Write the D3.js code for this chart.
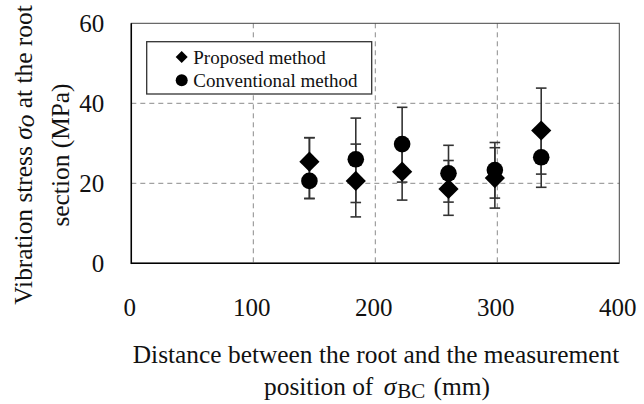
<!DOCTYPE html>
<html>
<head>
<meta charset="utf-8">
<script src="https://cdn.jsdelivr.net/npm/d3@7"></script>
<style>
  html, body { margin: 0; padding: 0; background: #fff; }
  svg { display: block; }
  text { font-family: "Liberation Serif", "Times New Roman", serif; fill: #111; }
</style>
</head>
<body>
<svg id="chart" width="644" height="404"></svg>
<script>
// Measurement positions (mm) and vibration stress (MPa)
const positions = [146, 184, 222, 260, 298, 336];

const proposedMean = [25.4, 20.6, 22.9, 18.6, 21.3, 33.2];
const proposedLow  = [16.2, 11.6, 15.8, 12.0, 13.8, 22.3];
const proposedHigh = [31.4, 29.8, 29.5, 25.7, 28.9, 43.8];

const conventionalMean = [20.6, 26.0, 29.8, 22.5, 23.3, 26.5];
const conventionalLow  = [16.2, 15.2, 20.3, 15.3, 16.3, 19.0];
const conventionalHigh = [31.4, 36.3, 39.0, 29.5, 30.2, 33.0];

const xTicks = [0, 100, 200, 300, 400];
const yTicks = [0, 20, 40, 60];
const legendLabels = ["Proposed method", "Conventional method"];

const svg = d3.select("#chart");
const plot = { left: 131.3, right: 619.3, top: 23.3, bottom: 263.3 };
const serif = "'Liberation Serif', 'Times New Roman', serif";

const x = d3.scaleLinear().domain([0, 400]).range([plot.left, plot.right]);
const y = d3.scaleLinear().domain([0, 60]).range([plot.bottom, plot.top]);

// dashed grid
const grid = svg.append("g");
grid.selectAll("line.gx").data(xTicks.filter(v => v > 0 && v < 400)).join("line")
  .attr("x1", d => x(d)).attr("x2", d => x(d))
  .attr("y1", plot.top).attr("y2", plot.bottom)
  .attr("stroke", "#8a8a8a").attr("stroke-width", 1).attr("stroke-dasharray", "5,4");
grid.selectAll("line.gy").data(yTicks.filter(v => v > 0 && v < 60)).join("line")
  .attr("x1", plot.left).attr("x2", plot.right)
  .attr("y1", d => y(d)).attr("y2", d => y(d))
  .attr("stroke", "#8a8a8a").attr("stroke-width", 1).attr("stroke-dasharray", "5,4");

// plot frame
svg.append("rect")
  .attr("x", plot.left).attr("y", plot.top)
  .attr("width", plot.right - plot.left).attr("height", plot.bottom - plot.top)
  .attr("fill", "none").attr("stroke", "#444").attr("stroke-width", 1);
svg.append("line").attr("x1", plot.left).attr("x2", plot.left)
  .attr("y1", plot.top).attr("y2", plot.bottom + 0.75)
  .attr("stroke", "#000").attr("stroke-width", 1.5);
svg.append("line").attr("x1", plot.left).attr("x2", plot.right)
  .attr("y1", plot.bottom).attr("y2", plot.bottom)
  .attr("stroke", "#000").attr("stroke-width", 1.5);

// axes (labels only, no tick marks)
const xAxis = d3.axisBottom(x).tickValues(xTicks).tickSize(0).tickPadding(0);
const gx = svg.append("g").attr("transform", `translate(0,${plot.bottom})`).call(xAxis)
  .attr("font-family", serif).attr("font-size", 25);
gx.select(".domain").remove();
gx.selectAll("text")
  .attr("dy", null).attr("y", 53).attr("dx", -2).attr("fill", "#111");

const yAxis = d3.axisLeft(y).tickValues(yTicks).tickSize(0).tickPadding(0);
const gy = svg.append("g").attr("transform", `translate(${plot.left},0)`).call(yAxis)
  .attr("font-family", serif).attr("font-size", 25);
gy.select(".domain").remove();
gy.selectAll("text")
  .attr("x", -27).attr("dy", "0.34em").attr("fill", "#111");

// error bars
function drawErrorBars(mean, low, high) {
  const g = svg.append("g").attr("stroke", "#333").attr("stroke-width", 1.6);
  const rows = positions.map((p, i) => ({ p, lo: low[i], hi: high[i] }));
  g.selectAll("line.v").data(rows).join("line")
    .attr("x1", d => x(d.p)).attr("x2", d => x(d.p))
    .attr("y1", d => y(d.lo)).attr("y2", d => y(d.hi));
  g.selectAll("line.lo").data(rows).join("line")
    .attr("x1", d => x(d.p) - 5.3).attr("x2", d => x(d.p) + 5.3)
    .attr("y1", d => y(d.lo)).attr("y2", d => y(d.lo));
  g.selectAll("line.hi").data(rows).join("line")
    .attr("x1", d => x(d.p) - 5.3).attr("x2", d => x(d.p) + 5.3)
    .attr("y1", d => y(d.hi)).attr("y2", d => y(d.hi));
}
drawErrorBars(proposedMean, proposedLow, proposedHigh);
drawErrorBars(conventionalMean, conventionalLow, conventionalHigh);

// markers
const diamond = d3.symbol().type(d3.symbolDiamond2).size(260);
svg.append("g").selectAll("circle").data(positions.map((p, i) => ({ p, v: conventionalMean[i] }))).join("circle")
  .attr("cx", d => x(d.p)).attr("cy", d => y(d.v)).attr("r", 8.3).attr("fill", "#000");
svg.append("g").selectAll("path").data(positions.map((p, i) => ({ p, v: proposedMean[i] }))).join("path")
  .attr("d", diamond).attr("transform", d => `translate(${x(d.p)},${y(d.v)})`).attr("fill", "#000");

// legend
const lg = svg.append("g");
lg.append("rect").attr("x", 146.7).attr("y", 41.7).attr("width", 225).attr("height", 52.3)
  .attr("fill", "#fff").attr("stroke", "#333").attr("stroke-width", 1.3);
lg.append("path").attr("d", d3.symbol().type(d3.symbolDiamond2).size(92)())
  .attr("transform", "translate(181.7,57)").attr("fill", "#000");
lg.append("circle").attr("cx", 181.7).attr("cy", 80.3).attr("r", 6).attr("fill", "#000");
lg.selectAll("text").data(legendLabels).join("text")
  .attr("x", 193.3).attr("y", (d, i) => 63.5 + i * 23.4)
  .style("font-size", "19px").text(d => d);

// axis titles
svg.append("text").attr("text-anchor", "middle").attr("x", 376).attr("y", 363)
  .style("font-size", "25.4px").text("Distance between the root and the measurement");
const xt2 = svg.append("text").attr("text-anchor", "middle").attr("x", 377).attr("y", 395)
  .style("font-size", "25.4px");
xt2.append("tspan").text("position of ");
xt2.append("tspan").attr("dx", 4).style("font-style", "italic").text("σ");
xt2.append("tspan").attr("dx", 1).attr("dy", 3).style("font-size", "21px").text("BC");
xt2.append("tspan").attr("dx", 2).attr("dy", -3).text(" (mm)");

const yt = svg.append("g").attr("transform", "translate(0,155) rotate(-90)");
const yl1 = yt.append("text").attr("text-anchor", "middle").attr("x", 0).attr("y", 32).style("font-size", "25.4px");
yl1.append("tspan").text("Vibration stress ");
yl1.append("tspan").style("font-style", "italic").text("σ");
yl1.append("tspan").style("font-style", "italic").attr("dy", 2).text("o");
yl1.append("tspan").attr("dy", -2).text(" at the root");
yt.append("text").attr("text-anchor", "middle").attr("x", 0).attr("y", 69).style("font-size", "25.4px")
  .text("section (MPa)");
</script>
</body>
</html>
